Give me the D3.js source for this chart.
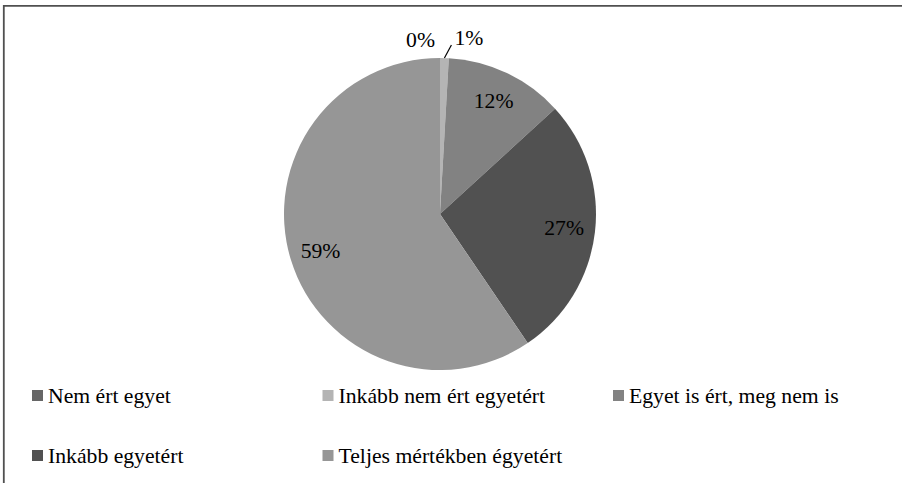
<!DOCTYPE html>
<html>
<head>
<meta charset="utf-8">
<script src="https://cdn.jsdelivr.net/npm/d3@7"></script>
<style>
  body { margin: 0; background: #fff; }
  svg { display: block; font-family: "Liberation Serif", "Times New Roman", Times, serif; }
</style>
</head>
<body>
<svg width="902" height="483" style='font-family: "Liberation Serif", Tinos, "Times New Roman", serif'></svg>
<script>
// data (percent)
const categories = ["Nem ért egyet", "Inkább nem ért egyetért", "Egyet is ért, meg nem is", "Inkább egyetért", "Teljes mértékben égyetért"];
const values = [0, 0.9, 12.3, 27.3, 59.5];
const labels = ["0%", "1%", "12%", "27%", "59%"];
const colors = ["#666666", "#b4b4b4", "#828282", "#515151", "#969696"];

const FS = 21.7;
const W = 902, H = 483;
const svg = d3.select("svg");

// frame (only top and left edges visible in the crop)
svg.append("line").attr("x1", 3.8).attr("y1", 5.8).attr("x2", W).attr("y2", 5.8)
    .attr("stroke", "#505050").attr("stroke-width", 1.8);
svg.append("line").attr("x1", 3.8).attr("y1", 5).attr("x2", 3.8).attr("y2", H)
    .attr("stroke", "#505050").attr("stroke-width", 1.8);

const cx = 440, cy = 214, r = 156;
const data = categories.map((c, i) => ({ name: c, value: values[i], label: labels[i], color: colors[i] }));

const pie = d3.pie().sort(null).value(d => d.value);
const arcs = pie(data);
const arc = d3.arc().innerRadius(0).outerRadius(r);
const labelArc = d3.arc().innerRadius(125).outerRadius(125);

const g = svg.append("g").attr("transform", `translate(${cx},${cy})`);

g.selectAll("path.slice")
    .data(arcs.filter(d => d.data.value > 0))
    .enter()
    .append("path")
    .attr("class", "slice")
    .attr("d", arc)
    .attr("fill", d => d.data.color);

const mid = d => (d.startAngle + d.endAngle) / 2;

function addText(sel, x, y, str, anchor) {
    return sel.append("text")
        .attr("x", x).attr("y", y)
        .attr("text-anchor", anchor || "start")
        .attr("font-size", FS)
        .style("font-family", '"Liberation Serif", Tinos, serif')
        .text(str);
}

// inside labels for the big slices
arcs.filter(d => d.data.value >= 5).forEach(d => {
    const c = labelArc.centroid(d);
    addText(g, c[0], c[1] + 7, d.data.label, "middle");
});

// outside labels for the tiny ones
const small = arcs.filter(d => d.data.value < 5);
small.forEach((d, i) => {
    const a = mid(d);
    const px = Math.sin(a) * r, py = -Math.cos(a) * r;
    if (i === 0) {
        addText(g, px - 5, -r - 11, d.data.label, "end");
    } else {
        const ex = px + 7, ey = py - 13;
        g.append("line")
            .attr("x1", px).attr("y1", py)
            .attr("x2", ex).attr("y2", ey)
            .attr("stroke", "#000").attr("stroke-width", 1.2);
        addText(g, ex + 3, -r - 13, d.data.label, "start");
    }
});

// legend: 3 columns, 2 rows
const colX = d3.scaleLinear().domain([0, 1]).range([32, 322.5]);
const rowY = d3.scaleLinear().domain([0, 1]).range([403, 463]);

data.forEach((d, i) => {
    const lg = svg.append("g")
        .attr("transform", `translate(${colX(i % 3)},${rowY(Math.floor(i / 3))})`);
    lg.append("rect")
        .attr("x", 0).attr("y", -13)
        .attr("width", 11).attr("height", 11)
        .attr("fill", d.color);
    addText(lg, 16, 0, d.name);
});
</script>
</body>
</html>
